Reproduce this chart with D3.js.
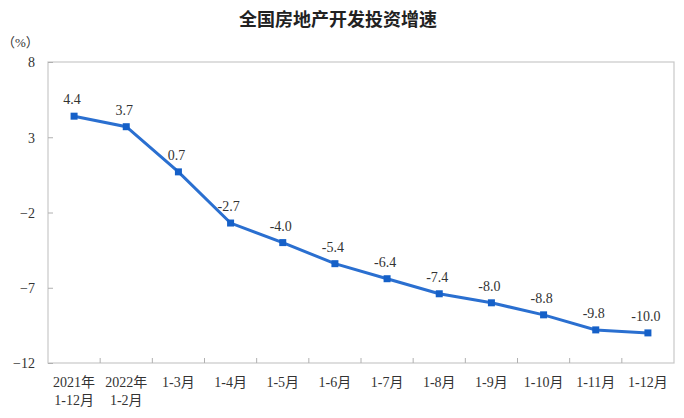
<!DOCTYPE html>
<html><head><meta charset="utf-8">
<script src="https://cdn.jsdelivr.net/npm/d3@7"></script>
<style>body{margin:0;background:#fff}</style>
</head><body><svg id="c" width="684" height="418"></svg>
<script>
const categoriesLine1 = ["2021年","2022年","1-3月","1-4月","1-5月","1-6月","1-7月","1-8月","1-9月","1-10月","1-11月","1-12月"];
const categoriesLine2 = ["1-12月","1-2月","","","","","","","","","",""];
const values = [4.4, 3.7, 0.7, -2.7, -4.0, -5.4, -6.4, -7.4, -8.0, -8.8, -9.8, -10.0];
const yTicks = [8, 3, -2, -7, -12];
const title = "全国房地产开发投资增速";
const unit = "（%）";

const svg = d3.select("#c");
const L = 48, R = 674, T = 62, B = 363;
const serif = "'Liberation Serif','Times New Roman','Noto Sans CJK SC',serif";
const x = d3.scaleBand().domain(d3.range(values.length)).range([L, R]);
const y = d3.scaleLinear().domain([-12, 8]).range([B, T]);

svg.append("text").attr("x", 338).attr("y", 26).attr("text-anchor", "middle")
  .style("font-family", "'Noto Sans CJK SC',sans-serif").style("font-size", "18px").style("font-weight", "bold")
  .attr("fill", "#222").text(title);
svg.append("text").attr("x", 2).attr("y", 47)
  .style("font-family", serif).style("font-size", "13px").attr("fill", "#333").text(unit);

// frame
svg.append("rect").attr("x", L).attr("y", T).attr("width", R - L).attr("height", B - T)
  .attr("fill", "none").attr("stroke", "#c8c8c8").attr("stroke-width", 1.2);

// y axis
const yAxis = d3.axisRight(y).tickValues(yTicks).tickSize(5).tickFormat(d3.format("d"));
const gy = svg.append("g").attr("transform", `translate(${L},0)`).call(yAxis);
gy.select(".domain").remove();
gy.selectAll("line").attr("stroke", "#b0b0b0");
gy.selectAll("text").attr("x", -13).attr("text-anchor", "end").attr("dy", "0.35em")
  .style("font-family", serif).style("font-size", "14px").attr("fill", "#333");

// x axis ticks between categories
const gx = svg.append("g").attr("transform", `translate(0,${B})`);
gx.selectAll("line.t").data(d3.range(1, values.length)).join("line")
  .attr("x1", i => x(i)).attr("x2", i => x(i)).attr("y1", 0).attr("y2", -5)
  .attr("stroke", "#b0b0b0");
gx.selectAll("text.l1").data(categoriesLine1).join("text")
  .attr("x", (d, i) => x(i) + x.bandwidth() / 2).attr("y", 24).attr("text-anchor", "middle")
  .style("font-family", serif).style("font-size", "14px").attr("fill", "#333").text(d => d);
gx.selectAll("text.l2").data(categoriesLine2).join("text")
  .attr("x", (d, i) => x(i) + x.bandwidth() / 2).attr("y", 42).attr("text-anchor", "middle")
  .style("font-family", serif).style("font-size", "14px").attr("fill", "#333").text(d => d);

const cx = i => x(i) + x.bandwidth() / 2;
const line = d3.line().x((d, i) => cx(i)).y(d => y(d));
svg.append("path").datum(values).attr("d", line).attr("fill", "none")
  .attr("stroke", "#2a6fd0").attr("stroke-width", 3);
svg.selectAll("rect.m").data(values).join("rect")
  .attr("x", (d, i) => cx(i) - 3.5).attr("y", d => y(d) - 3.5).attr("width", 7).attr("height", 7)
  .attr("fill", "#1560c8");
svg.selectAll("text.v").data(values).join("text")
  .attr("x", (d, i) => cx(i) - 2).attr("y", d => y(d) - 12).attr("text-anchor", "middle")
  .style("font-family", serif).style("font-size", "14px").attr("fill", "#333")
  .text(d => d.toFixed(1));
</script></body></html>
